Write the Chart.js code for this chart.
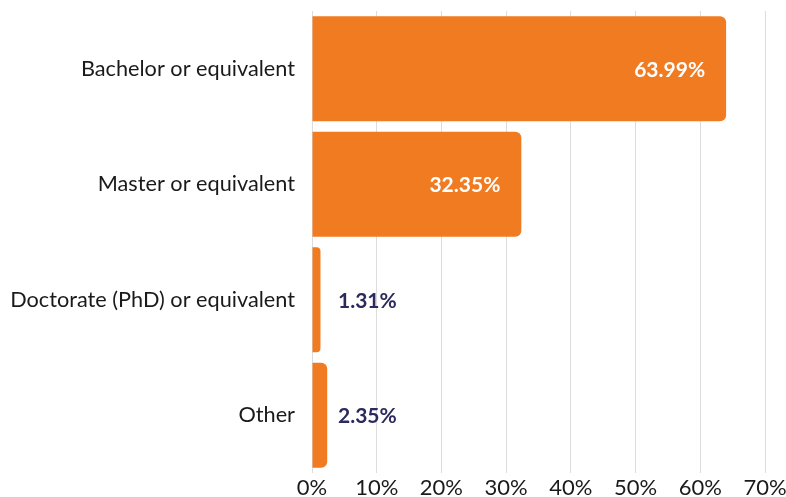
<!DOCTYPE html>
<html>
<head>
<meta charset="utf-8">
<script src="https://cdn.jsdelivr.net/npm/chart.js@4/dist/chart.umd.min.js"></script>
<style>
  html, body { margin: 0; padding: 0; background: #ffffff; }
  #wrap { width: 786px; height: 497px; position: relative; }
</style>
</head>
<body>
<div id="wrap"><canvas id="chart"></canvas></div>
<script>
// Highest level of education attained (share of respondents)
const categories = [
  "Bachelor or equivalent",
  "Master or equivalent",
  "Doctorate (PhD) or equivalent",
  "Other"
];
const shares = [63.99, 32.35, 1.31, 2.35];
const tickValues = [0, 10, 20, 30, 40, 50, 60, 70];

const ORANGE = "#F07B21";
const NAVY = "#2B2A5E";

// Writes each value as a percentage: inside the bar when it is wide, beside it otherwise
const valueLabels = {
  id: "valueLabels",
  afterDatasetsDraw(chart) {
    const { ctx } = chart;
    const meta = chart.getDatasetMeta(0);
    const xScale = chart.scales.x;
    const zeroX = xScale.getPixelForValue(0);
    ctx.save();
    ctx.font = "bold 21px Lato";
    ctx.textBaseline = "middle";
    meta.data.forEach((bar, i) => {
      const v = shares[i];
      const text = v.toFixed(2) + "%";
      if (v > 10) {
        ctx.fillStyle = "#ffffff";
        ctx.textAlign = "right";
        ctx.fillText(text, bar.x - 21, bar.y + 1);
      } else {
        ctx.fillStyle = NAVY;
        ctx.textAlign = "left";
        ctx.fillText(text, zeroX + 26, bar.y + 1);
      }
    });
    ctx.restore();
  }
};

new Chart(document.getElementById("chart"), {
  type: "bar",
  data: {
    labels: categories,
    datasets: [{
      data: shares,
      backgroundColor: ORANGE,
      borderSkipped: "start",
      borderRadius: 6,
      categoryPercentage: 0.91,
      barPercentage: 1.0
    }]
  },
  options: {
    indexAxis: "y",
    responsive: true,
    maintainAspectRatio: false,
    animation: false,
    layout: { padding: { top: 11, right: 21, bottom: 0, left: 0 } },
    plugins: {
      legend: { display: false },
      tooltip: { enabled: false }
    },
    scales: {
      x: {
        min: 0,
        max: 70,
        afterBuildTicks(scale) {
          scale.ticks = tickValues.map(v => ({ value: v }));
        },
        grid: { color: "#dcdcdc", lineWidth: 1, drawTicks: false },
        border: { display: false },
        ticks: {
          color: "#1a1a1a",
          font: { family: "Lato", size: 22 },
          padding: 2,
          callback: v => v + "%"
        },
        afterFit(scale) {
          scale.height = 24;
          scale.paddingLeft = 0;
          scale.paddingRight = 0;
        }
      },
      y: {
        grid: { display: false },
        border: { display: false },
        ticks: {
          color: "#1a1a1a",
          font: { family: "Lato", size: 21.7 },
          padding: 9
        },
        afterFit(scale) {
          scale.width = 312;
          scale.paddingTop = 0;
          scale.paddingBottom = 0;
        }
      }
    }
  },
  plugins: [valueLabels]
});
</script>
</body>
</html>
